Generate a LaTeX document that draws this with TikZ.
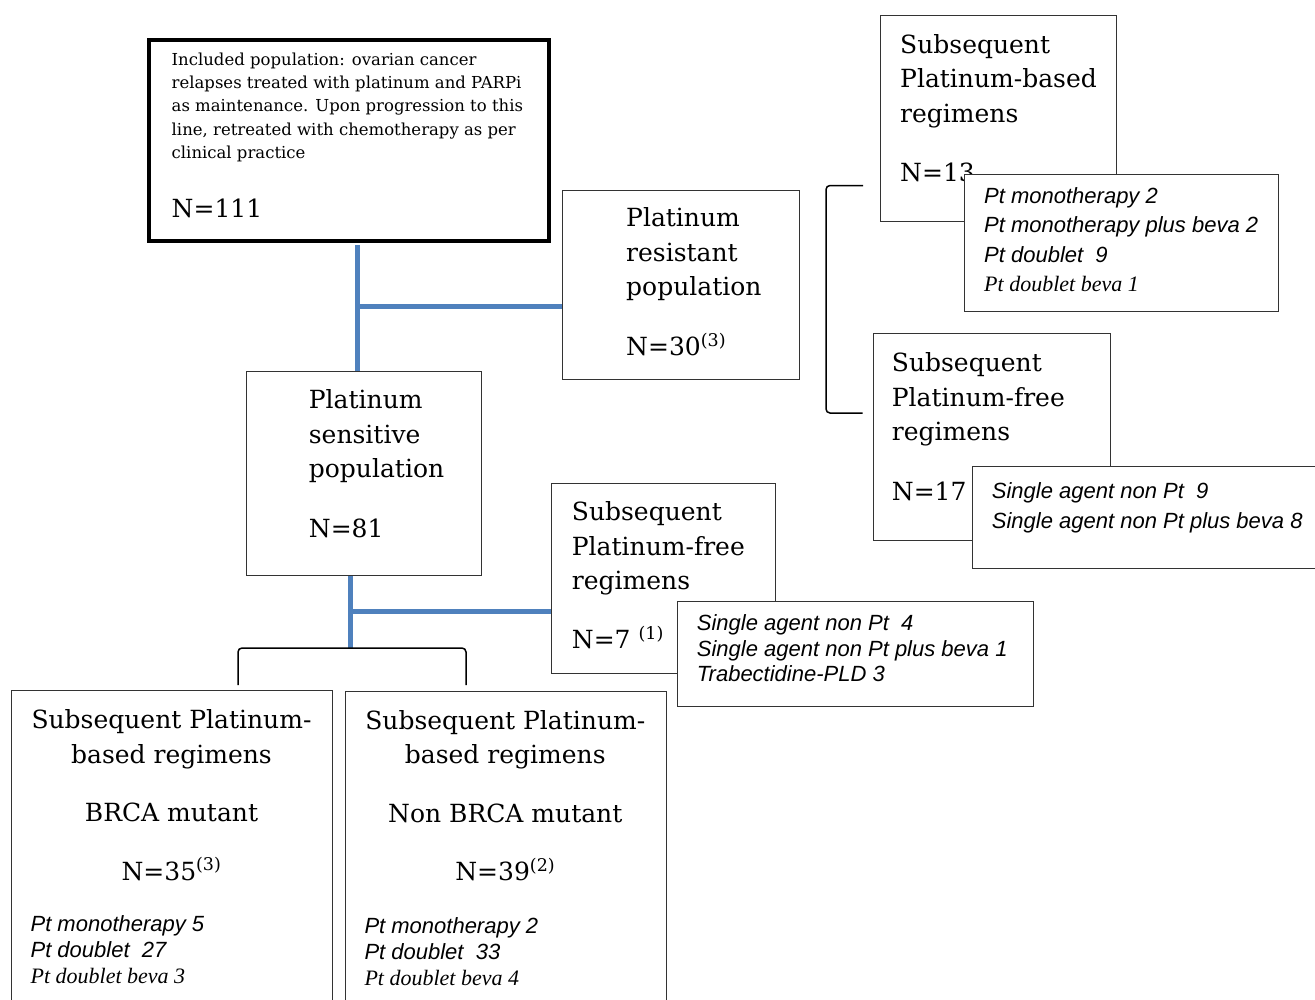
\documentclass[tikz,border=0pt]{standalone}
\usepackage{fontspec}
\setmainfont{DejaVu Serif}
\setsansfont{Liberation Sans}
\newfontfamily\timesfam{Liberation Serif}
\newcommand{\seit}{\timesfam\itshape}
\definecolor{linkblue}{RGB}{79,129,189}

\begin{document}
\begin{tikzpicture}[x=1pt, y=-1pt,
		box/.style={draw=black!80, line width=1.3pt, fill=white, anchor=north west, inner sep=0pt},
		big/.style={anchor=north west, inner sep=0pt, align=left, font=\fontsize{25}{34.5}\selectfont},
		lst/.style={anchor=north west, inner sep=0pt, align=left, font=\sffamily\itshape\fontsize{22}{#1}\selectfont},
		lst/.default=25.5,
		link/.style={draw=linkblue, line width=5pt},
		brk/.style={draw=black, line width=1.5pt, rounded corners=4pt}]
		\useasboundingbox (0,0) rectangle (1315,999);
		\clip (0,0) rectangle (1315,999);
		\coordinate (j1top) at (357.4,245);
		\coordinate (j1) at (357.4,306.7);
		\coordinate (j2) at (350,611);
		\coordinate (bl) at (238,685);
		\coordinate (br) at (466,685);
		\coordinate (bt) at (352,648);
		\coordinate (r1) at (863,185.5);
		\coordinate (rm) at (826,300);
		\coordinate (r2) at (862.5,413);

		\node[box, draw=black, line width=3.5pt, minimum width=400pt, minimum height=201pt] (incl) at (147,38) {};
		\node[big, font=\fontsize{16.5}{23.3}\selectfont] (incl-t) at (171.5,52.5) {Included population: ovarian cancer\\relapses treated with platinum and PARPi\\as maintenance. Upon progression to this\\line, retreated with chemotherapy as per\\clinical practice};
		\node[big] (incl-n) at (171.5,198.5) {N=111};

		\node[box, minimum width=237pt, minimum height=189pt] (res) at (562,190) {};
		\node[big] (res-t) at (626,207.7) {Platinum\\resistant\\population\\[24.8pt]N=30\textsuperscript{(3)}};

		\node[box, minimum width=235.5pt, minimum height=204pt] (sens) at (245.5,371) {};
		\node[big] (sens-t) at (308.7,389.3) {Platinum\\sensitive\\population\\[25pt]N=81};

		\draw[link] (j1top) -- (j1 |- sens.north);
		\draw[link] (j1) -- (j1 -| res.west);
		\draw[link] (j2 |- sens.south) -- (j2 |- bt);
		\draw[brk] (bl) |- (bt) -| (br);
		\draw[brk] (r1) -| (rm) |- (r2);

		\node[box, minimum width=236pt, minimum height=206pt] (pbased) at (880,15) {};
		\node[big] (pbased-t) at (900,34.3) {Subsequent\\Platinum-based\\regimens\\[25pt]N=13};
		\node[box, minimum width=314pt, minimum height=137.5pt] (pbl) at (964,173.5) {};
		\node[lst=29.3] (pbl-t) at (984,187.3) {Pt monotherapy 2\\Pt monotherapy plus beva 2\\Pt doublet\ \ 9\\{\seit Pt doublet beva 1}};

		\node[box, minimum width=237pt, minimum height=207pt] (pfree1) at (872.5,333) {};
		\node[big] (pfree1-t) at (891.7,352.7) {Subsequent\\Platinum-free\\regimens\\[24.8pt]N=17};
		\node[box, minimum width=360pt, minimum height=102pt] (pfl1) at (971.5,465.5) {};
		\node[lst=30] (pfl1-t) at (991.7,482.3) {Single agent non Pt\ \ 9\\Single agent non Pt plus beva 8};

		\node[box, minimum width=224pt, minimum height=190pt] (pfree2) at (551,482.5) {};
		\node[big] (pfree2-t) at (571.7,501.7) {Subsequent\\Platinum-free\\regimens\\[24.1pt]N=7 \textsuperscript{(1)}};
		\node[box, minimum width=355.5pt, minimum height=105pt] (pfl2) at (677,601) {};
		\node[lst] (pfl2-t) at (696.7,614.7) {Single agent non Pt\ \ 4\\Single agent non Pt plus beva 1\\Trabectidine-PLD 3};
		\draw[link] (j2) -- (j2 -| pfree2.west);

		\node[box, minimum width=321pt, minimum height=330pt] (brca) at (11,690) {};
		\node[big, anchor=north, align=center] (brca-t) at (171.5,709.3) {Subsequent Platinum-\\based regimens\\[24pt]BRCA mutant\\[24pt]N=35\textsuperscript{(3)}};
		\node[lst=25.8] (brca-l) at (30.4,915.7) {Pt monotherapy 5\\Pt doublet\ \ 27\\{\seit Pt doublet beva 3}};

		\node[box, minimum width=320.5pt, minimum height=330pt] (nonbrca) at (345,690.5) {};
		\node[big, anchor=north, align=center] (nonbrca-t) at (505.3,709.8) {Subsequent Platinum-\\based regimens\\[24pt]Non BRCA mutant\\[24pt]N=39\textsuperscript{(2)}};
		\node[lst=25.8] (nonbrca-l) at (364.3,917.3) {Pt monotherapy 2\\Pt doublet\ \ 33\\{\seit Pt doublet beva 4}};
	\end{tikzpicture}
\end{document}
